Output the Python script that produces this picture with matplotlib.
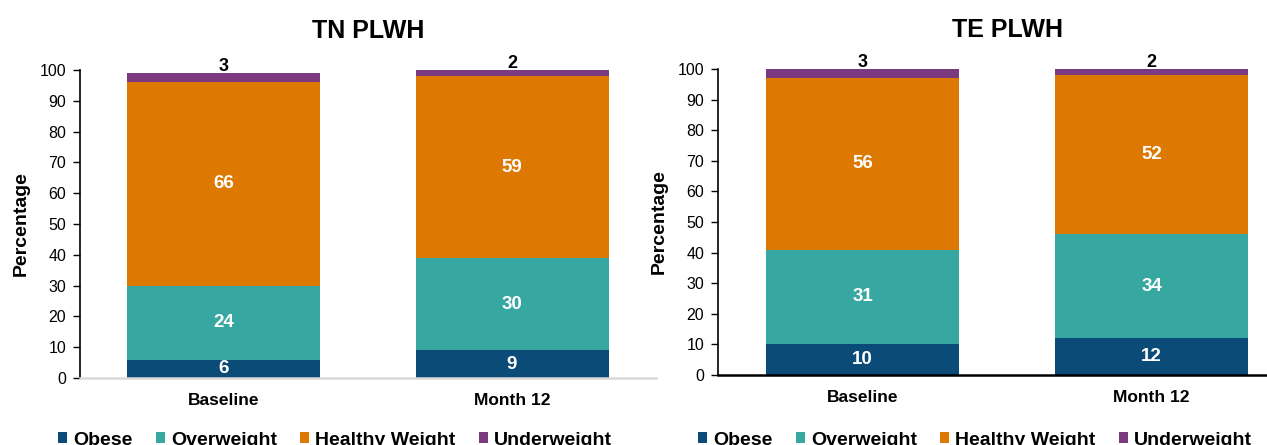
import numpy as np
import matplotlib.pyplot as plt
from matplotlib.patches import Patch

plt.rcParams['font.family'] = ['Liberation Sans', 'DejaVu Sans']

groups = ['Baseline', 'Month 12']
series = ['Obese', 'Overweight', 'Healthy Weight', 'Underweight']
colors = ['#0b4b78', '#36a7a1', '#dd7800', '#7b3a80']

# TN PLWH
tn_obese = [6, 9]
tn_overweight = [24, 30]
tn_healthy = [66, 59]
tn_underweight = [3, 2]

# TE PLWH
te_obese = [10, 12]
te_overweight = [31, 34]
te_healthy = [56, 52]
te_underweight = [3, 2]


def draw_panel(ax, title, values, xaxis_color):
    x = np.arange(len(groups))
    bottom = np.zeros(len(groups))
    for name, vals, c in zip(series, values, colors):
        vals = np.array(vals, dtype=float)
        ax.bar(x, vals, 0.67, bottom=bottom, color=c, label=name, zorder=2)
        for xi, b, v in zip(x, bottom, vals):
            if name == 'Underweight':
                ax.annotate(f'{v:.0f}', (xi, b + v), xytext=(0, 4.5),
                            textcoords='offset points', ha='center', va='center',
                            fontsize=13, fontweight='bold', color='black',
                            annotation_clip=False, zorder=4)
            else:
                ax.text(xi, b + v / 2, f'{v:.0f}', ha='center', va='center',
                        fontsize=13.5, fontweight='bold', color='white', zorder=4)
        bottom += vals

    ax.set_xlim(-0.5, 1.5)
    ax.set_ylim(0, 100)
    ax.set_yticks(range(0, 101, 10))
    ax.set_xticks(x)
    ax.set_xticklabels(groups, fontsize=12.5, fontweight='bold')
    ax.tick_params(axis='y', labelsize=11.5, length=5, width=1, pad=5)
    ax.tick_params(axis='x', length=0, pad=11)
    ax.set_ylabel('Percentage', fontsize=14, fontweight='bold', labelpad=7)
    ax.set_title(title, fontsize=18, fontweight='bold', pad=23)

    for s in ['top', 'right']:
        ax.spines[s].set_visible(False)
    ax.spines['left'].set_linewidth(1.2)
    ax.spines['bottom'].set_color(xaxis_color)
    ax.spines['bottom'].set_linewidth(1.8)


fig = plt.figure(figsize=(12.67, 4.45), dpi=100)
ax1 = fig.add_axes([0.0631, 0.1506, 0.4547, 0.6921])
ax2 = fig.add_axes([0.5667, 0.1573, 0.4562, 0.6876])

draw_panel(ax1, 'TN PLWH', [tn_obese, tn_overweight, tn_healthy, tn_underweight], '#d9d9d9')
draw_panel(ax2, 'TE PLWH', [te_obese, te_overweight, te_healthy, te_underweight], 'black')

# legends sit at the bottom edge under each panel
handles = [Patch(facecolor=c, label=n) for n, c in zip(series, colors)]
for cx in [335 / 1267, 975 / 1267]:
    fig.legend(handles=handles, loc='center', bbox_to_anchor=(cx, 0.011), ncol=4,
               frameon=False, prop={'size': 14, 'weight': 'bold'},
               handlelength=0.45, handleheight=0.45, handletextpad=0.32,
               columnspacing=1.2, borderpad=0, borderaxespad=0)

fig.savefig('out.png', dpi=100)
